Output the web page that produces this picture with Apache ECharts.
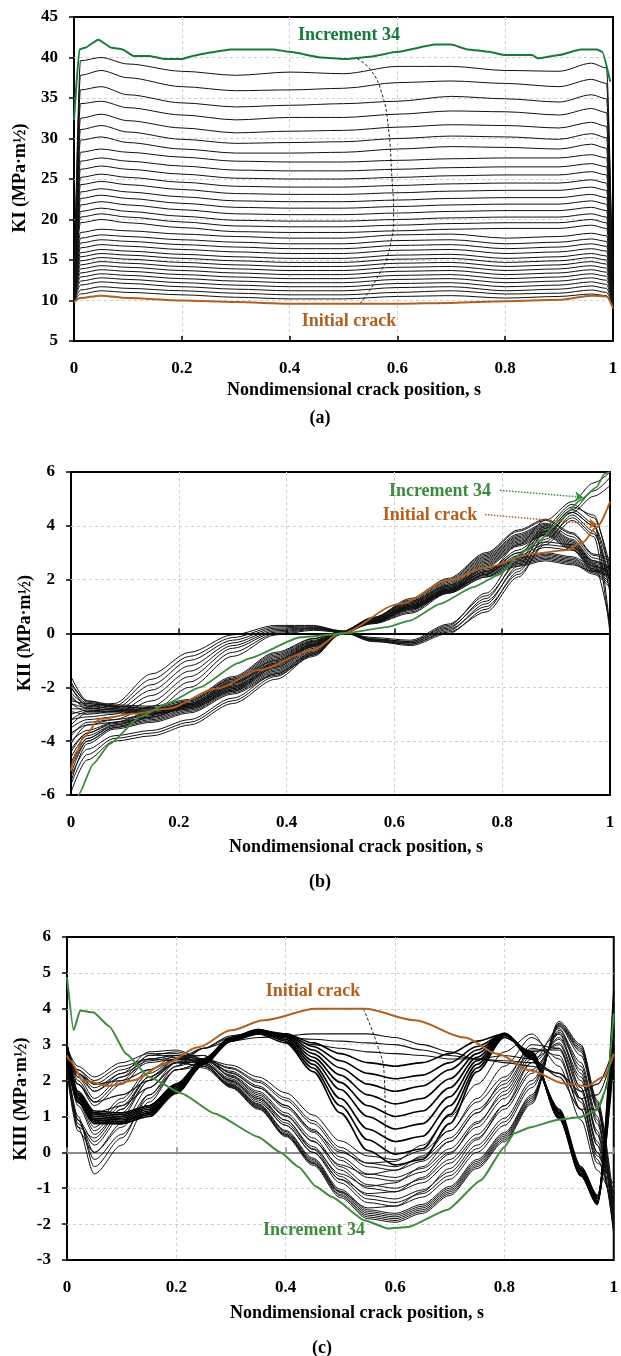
<!DOCTYPE html>
<html><head><meta charset="utf-8">
<script src="https://cdn.jsdelivr.net/npm/echarts@6/dist/echarts.min.js"></script>
<style>html,body{margin:0;padding:0;background:#fff}#c{width:621px;height:1356px}</style>
</head><body><div id="c"></div>
<script>
// ---------------- Panel (a): KI ----------------
const KI_S = [0, 0.012, 0.05, 0.1, 0.2, 0.3, 0.4, 0.5, 0.6, 0.7, 0.8, 0.9, 0.96, 0.988, 1];
const KI_LINES = [
 [10.5,39.6,40.0,39.2,38.3,37.8,38.2,38.0,38.9,38.9,38.4,38.3,39.3,38.7,9.6],
 [10.5,37.8,38.4,37.5,36.4,35.9,36.0,36.2,36.9,37.1,36.8,36.4,37.3,36.8,9.6],
 [10.4,36.0,36.4,35.4,34.4,33.9,34.1,34.3,34.6,35.2,34.9,34.5,35.4,34.9,9.6],
 [10.4,34.3,34.6,33.8,32.9,32.3,32.6,32.6,33.0,33.4,33.3,32.9,33.7,33.2,9.6],
 [10.4,32.5,33.0,32.2,31.3,30.7,30.9,31.0,31.4,31.7,31.6,31.3,32.0,31.5,9.6],
 [10.3,31.1,31.6,30.8,29.9,29.4,29.5,29.6,30.0,30.3,30.2,29.9,30.6,30.1,9.6],
 [10.3,29.8,30.2,29.5,28.7,28.2,28.2,28.3,28.7,29.0,28.9,28.7,29.3,28.8,9.6],
 [10.3,28.3,28.7,28.3,27.7,27.2,27.1,27.1,27.3,27.5,27.6,27.6,28.0,27.6,9.5],
 [10.3,27.2,27.6,27.2,26.6,26.1,26.0,26.0,26.2,26.4,26.5,26.5,26.9,26.5,9.5],
 [10.3,26.2,26.6,26.2,25.6,25.1,25.0,25.0,25.2,25.4,25.5,25.5,25.9,25.5,9.5],
 [10.2,25.2,25.6,25.2,24.6,24.1,24.0,24.0,24.2,24.4,24.5,24.5,24.9,24.5,9.5],
 [10.2,24.3,24.7,24.3,23.7,23.2,23.1,23.1,23.3,23.5,23.6,23.6,24.0,23.6,9.5],
 [10.2,23.4,23.8,23.4,22.8,22.3,22.2,22.2,22.4,22.6,22.7,22.7,23.1,22.7,9.5],
 [10.2,22.6,23.0,22.6,22.0,21.5,21.4,21.4,21.6,21.8,21.9,21.9,22.3,21.9,9.5],
 [10.2,21.8,22.2,21.8,21.2,20.7,20.6,20.6,20.8,21.0,21.1,21.1,21.5,21.1,9.5],
 [10.1,21.0,21.4,21.0,20.4,19.9,19.8,19.8,20.0,20.2,20.3,20.3,20.7,20.3,9.5],
 [10.1,20.3,20.7,20.3,19.7,19.2,19.1,19.1,19.3,19.5,19.6,19.6,20.0,19.6,9.5],
 [10.1,19.6,20.0,19.6,19.0,18.5,18.4,18.4,18.6,18.8,18.9,18.9,19.3,18.9,9.5],
 [10.0,18.4,18.8,18.6,18.2,17.9,17.7,17.7,18.1,18.2,17.7,17.9,18.3,18.0,9.4],
 [10.0,17.7,18.1,17.9,17.5,17.2,17.0,17.0,17.4,17.5,17.0,17.2,17.6,17.3,9.4],
 [10.0,17.1,17.5,17.3,16.9,16.6,16.4,16.4,16.8,16.9,16.4,16.6,17.0,16.7,9.4],
 [10.0,16.5,16.9,16.7,16.3,16.0,15.8,15.8,16.2,16.3,15.8,16.0,16.4,16.1,9.4],
 [10.0,15.9,16.3,16.1,15.7,15.4,15.2,15.2,15.6,15.7,15.2,15.4,15.8,15.5,9.4],
 [10.0,15.4,15.8,15.6,15.2,14.9,14.7,14.7,15.1,15.2,14.7,14.9,15.3,15.0,9.4],
 [9.9,14.9,15.3,15.1,14.7,14.4,14.2,14.2,14.6,14.7,14.2,14.4,14.8,14.5,9.4],
 [9.9,14.4,14.8,14.6,14.2,13.9,13.7,13.7,14.1,14.2,13.7,13.9,14.3,14.0,9.4],
 [9.9,13.9,14.3,14.1,13.7,13.4,13.2,13.2,13.6,13.7,13.2,13.4,13.8,13.5,9.4],
 [9.9,13.4,13.8,13.6,13.2,12.9,12.7,12.7,13.1,13.2,12.7,12.9,13.3,13.0,9.4],
 [9.9,12.9,13.3,13.1,12.7,12.4,12.2,12.2,12.6,12.7,12.2,12.4,12.8,12.5,9.3],
 [9.8,12.4,12.8,12.6,12.2,11.9,11.7,11.7,12.1,12.2,11.7,11.9,12.3,12.0,9.3],
 [9.8,11.9,12.3,12.1,11.7,11.4,11.2,11.2,11.6,11.7,11.2,11.4,11.8,11.5,9.3],
 [9.8,11.3,11.7,11.5,11.2,10.9,10.7,10.7,11.0,11.2,10.8,10.9,11.3,11.0,9.3],
 [9.8,10.8,11.2,11.0,10.7,10.4,10.2,10.2,10.5,10.6,10.3,10.5,10.8,10.6,9.3]
];
const KI_INIT_S = [0, 0.012, 0.05, 0.1, 0.2, 0.3, 0.4, 0.5, 0.6, 0.7, 0.8, 0.9, 0.96, 0.988, 1];
const KI_INIT = [9.8, 10.3, 10.6, 10.3, 10.0, 9.8, 9.6, 9.6, 9.6, 9.7, 9.9, 10.1, 10.6, 10.5, 9.0];
const KI_INC34_S = [0, 0.01, 0.02, 0.045, 0.07, 0.09, 0.11, 0.14, 0.17, 0.2, 0.22, 0.25, 0.29, 0.37, 0.4, 0.46, 0.5, 0.55, 0.6, 0.67, 0.7, 0.73, 0.77, 0.8, 0.85, 0.86, 0.9, 0.94, 0.97, 0.98, 0.995];
const KI_INC34 = [32.3, 41.0, 41.2, 42.2, 41.2, 41.0, 40.2, 40.2, 39.8, 39.8, 40.2, 40.6, 41.0, 41.0, 40.7, 40.0, 39.8, 40.1, 40.7, 41.6, 41.6, 41.0, 40.7, 40.3, 40.3, 39.9, 40.3, 41.0, 41.0, 40.7, 37.0];
const KI_TREND_S = [0.531, 0.56, 0.586, 0.593, 0.59, 0.583, 0.571, 0.55, 0.524];
const KI_TREND = [9.65, 12.5, 16.6, 21.0, 25.0, 31.5, 35.6, 38.5, 39.9];

// ---------------- Panel (b): KII ----------------
const KII_S = [0, 0.03, 0.08, 0.15, 0.22, 0.3, 0.38, 0.45, 0.5, 0.56, 0.63, 0.7, 0.77, 0.83, 0.88, 0.93, 0.97, 1];
const KII_LINES = [
 [-1.6,-2.5,-2.7,-2.8,-2.55,-1.7,-0.8,-0.25,0.05,0.55,1.2,1.95,2.9,3.7,4.1,3.6,2.8,2.6],
 [-1.8,-2.55,-2.7,-2.8,-2.6,-1.75,-0.85,-0.28,0.05,0.52,1.15,1.9,2.85,3.65,4.05,3.5,2.7,2.5],
 [-2.0,-2.6,-2.75,-2.85,-2.6,-1.8,-0.9,-0.3,0.05,0.5,1.1,1.85,2.8,3.6,4.0,3.45,2.65,2.45],
 [-2.2,-2.65,-2.8,-2.85,-2.65,-1.85,-0.95,-0.32,0.05,0.48,1.05,1.8,2.75,3.55,3.95,3.4,2.6,2.4],
 [-2.4,-2.7,-2.8,-2.9,-2.65,-1.9,-1.0,-0.35,0.04,0.46,1.0,1.75,2.7,3.5,3.9,3.35,2.55,2.35],
 [-2.6,-2.75,-2.85,-2.9,-2.7,-1.95,-1.05,-0.38,0.04,0.44,0.95,1.7,2.65,3.45,3.85,3.3,2.5,2.3],
 [-2.8,-2.8,-2.85,-2.95,-2.7,-2.0,-1.1,-0.4,0.03,0.42,0.9,1.65,2.6,3.4,3.8,3.25,2.45,2.25],
 [-3.0,-2.85,-2.9,-2.95,-2.75,-2.05,-1.15,-0.42,0.03,0.4,0.85,1.6,2.55,3.35,3.75,3.2,2.4,2.2],
 [-3.2,-2.9,-2.9,-3.0,-2.75,-2.1,-1.2,-0.45,0.02,0.38,0.8,1.55,2.5,3.3,3.7,3.15,2.35,2.15],
 [-3.4,-2.95,-2.95,-3.0,-2.8,-2.15,-1.25,-0.48,0.02,0.36,0.75,1.5,2.45,3.25,3.65,3.1,2.3,2.1],
 [-2.5,-2.6,-2.7,-2.75,-2.5,-1.65,-0.75,-0.2,0.06,0.56,1.25,2.0,2.95,3.8,4.2,3.7,2.9,2.7],
 [-1.9,-2.5,-2.65,-2.7,-2.45,-1.6,-0.7,-0.18,0.06,0.58,1.3,2.05,3.0,3.85,4.25,3.75,2.95,2.8],
 [-2.0,-2.7,-2.6,-1.5,-0.7,-0.05,0.3,0.3,0.1,-0.2,-0.3,0.3,1.5,2.9,4.0,4.8,4.3,2.5],
 [-2.3,-2.8,-2.7,-1.7,-0.85,-0.15,0.25,0.28,0.1,-0.22,-0.35,0.2,1.3,2.7,3.9,4.7,4.4,2.2],
 [-2.6,-2.9,-2.8,-1.9,-1.0,-0.25,0.2,0.25,0.08,-0.25,-0.4,0.1,1.1,2.5,3.8,4.6,4.1,0.2],
 [-2.9,-3.0,-2.9,-2.1,-1.2,-0.35,0.15,0.22,0.08,-0.28,-0.45,0.0,0.9,2.3,3.6,4.5,4.0,1.8],
 [-3.2,-3.1,-3.0,-2.3,-1.4,-0.45,0.1,0.2,0.07,-0.3,-0.4,0.05,0.8,2.1,3.4,4.4,3.8,1.5],
 [-3.5,-3.2,-3.1,-2.5,-1.6,-0.55,0.05,0.18,0.07,-0.25,-0.35,0.15,1.0,2.2,3.3,4.2,3.6,0.0],
 [-3.8,-3.3,-3.2,-2.7,-1.8,-0.7,0.0,0.15,0.06,-0.2,-0.3,0.25,1.2,2.4,3.5,4.3,3.7,1.9],
 [-4.1,-3.4,-3.3,-2.9,-2.0,-0.85,-0.05,0.12,0.05,-0.15,-0.25,0.35,1.4,2.6,3.7,4.5,4.0,2.3],
 [-4.0,-3.6,-3.3,-3.1,-2.7,-2.0,-1.3,-0.6,0.0,0.55,1.15,1.75,2.35,2.75,2.95,2.8,2.4,2.1],
 [-4.3,-3.7,-3.35,-3.1,-2.75,-2.05,-1.35,-0.65,0.0,0.5,1.1,1.7,2.3,2.7,2.9,2.75,2.35,2.0],
 [-4.6,-3.8,-3.4,-3.15,-2.8,-2.1,-1.4,-0.7,-0.02,0.48,1.05,1.65,2.25,2.65,2.85,2.7,2.3,1.9],
 [-4.9,-3.9,-3.45,-3.2,-2.85,-2.15,-1.45,-0.75,-0.02,0.45,1.0,1.6,2.2,2.6,2.8,2.65,2.25,1.8],
 [-5.2,-4.0,-3.5,-3.25,-2.9,-2.2,-1.5,-0.8,-0.03,0.42,0.95,1.55,2.15,2.55,2.75,2.6,2.2,1.7],
 [-5.5,-4.1,-3.55,-3.3,-2.95,-2.25,-1.55,-0.85,-0.04,0.4,0.9,1.5,2.1,2.5,2.7,2.55,2.3,2.5],
 [-3.7,-3.4,-3.2,-3.0,-2.65,-1.95,-1.25,-0.55,0.01,0.6,1.2,1.8,2.4,2.8,3.0,2.85,2.5,2.3],
 [-4.4,-3.7,-3.3,-3.0,-2.5,-1.7,-1.0,-0.4,0.02,0.5,1.05,1.65,2.3,3.1,3.8,4.6,5.3,5.8],
 [-4.8,-3.9,-3.4,-3.05,-2.6,-1.8,-1.1,-0.45,0.0,0.45,1.0,1.6,2.2,3.0,3.7,4.5,5.1,5.5],
 [-5.0,-4.0,-3.5,-3.1,-2.65,-1.85,-1.15,-0.5,0.0,0.4,0.95,1.55,2.2,3.3,4.2,4.9,5.6,6.0],
 [-5.3,-4.3,-3.8,-3.6,-3.2,-2.4,-1.5,-0.7,0.0,0.5,1.0,1.6,2.3,3.0,3.4,3.3,2.7,2.4],
 [-5.6,-4.5,-3.9,-3.7,-3.3,-2.5,-1.6,-0.75,0.0,0.45,0.95,1.55,2.2,2.9,3.3,3.2,2.6,0.3],
 [-5.9,-4.7,-4.0,-3.8,-3.4,-2.6,-1.7,-0.8,-0.02,0.4,0.9,1.5,2.1,2.8,3.2,3.1,2.5,2.2]
];
const KII_INIT_S = [0, 0.01, 0.023, 0.054, 0.115, 0.178, 0.27, 0.35, 0.447, 0.5, 0.61, 0.70, 0.771, 0.857, 0.92, 0.95, 0.975, 1];
const KII_INIT = [-5.1, -4.4, -3.85, -3.17, -2.98, -2.8, -2.05, -1.35, -0.63, 0.0, 1.1, 1.97, 2.46, 2.97, 3.1, 3.4, 3.95, 4.9];
const KII_INC34_S = [0, 0.014, 0.041, 0.072, 0.128, 0.178, 0.239, 0.31, 0.33, 0.425, 0.511, 0.586, 0.629, 0.685, 0.746, 0.796, 0.833, 0.87, 0.907, 0.944, 0.975, 0.99, 1.0];
const KII_INC34 = [-7.2, -6.0, -4.85, -4.1, -3.1, -2.6, -2.0, -1.1, -0.93, -0.14, 0.01, 0.24, 0.48, 1.1, 1.72, 2.2, 2.96, 3.46, 4.2, 4.94, 5.44, 5.94, 6.0];
const KII_ARROW_INC34 = [[0.796, 5.32], [0.95, 5.06]];
const KII_ARROW_INIT = [[0.768, 4.42], [0.976, 4.05]];

// ---------------- Panel (c): KIII ----------------
const KIII_S = [0, 0.02, 0.05, 0.1, 0.15, 0.2, 0.25, 0.3, 0.35, 0.4, 0.45, 0.5, 0.55, 0.6, 0.65, 0.7, 0.75, 0.8, 0.85, 0.9, 0.94, 0.97, 1];
const KIII_UPPER = [
 [2.7,2.2,1.9,2.0,2.3,2.6,2.9,3.1,3.2,3.25,3.3,3.3,3.3,3.2,3.0,2.8,2.6,2.5,2.4,2.2,1.7,1.9,2.9],
 [2.6,1.9,1.4,1.6,2.0,2.5,2.9,3.2,3.3,3.2,3.15,3.1,3.05,3.0,2.85,2.7,2.6,2.55,2.5,2.2,1.5,1.6,2.8],
 [2.5,1.5,1.1,1.3,1.8,2.4,2.9,3.25,3.35,3.2,3.0,2.9,2.8,2.75,2.7,2.6,2.6,2.7,2.6,2.1,1.2,1.2,2.8]
];
const KIII_THICK = [
 [2.9,1.7,1.15,1.1,1.3,1.9,2.6,3.15,3.35,3.3,3.05,2.75,2.5,2.4,2.5,2.75,3.1,3.3,2.6,1.2,-0.4,-1.2,2.6],
 [3.0,1.65,1.1,1.05,1.3,1.9,2.6,3.2,3.4,3.3,2.95,2.55,2.2,2.05,2.15,2.5,2.95,3.3,2.65,1.15,-0.45,-1.25,3.0],
 [2.8,1.6,1.05,1.0,1.25,1.85,2.6,3.2,3.4,3.28,2.85,2.35,1.9,1.7,1.85,2.3,2.85,3.3,2.6,1.1,-0.5,-1.3,3.3],
 [2.9,1.55,1.0,0.95,1.2,1.85,2.6,3.2,3.42,3.25,2.75,2.15,1.6,1.35,1.5,2.05,2.75,3.32,2.65,1.1,-0.5,-1.35,3.6],
 [3.0,1.5,0.95,0.9,1.15,1.8,2.55,3.2,3.42,3.22,2.65,1.95,1.3,1.0,1.15,1.8,2.65,3.32,2.7,1.05,-0.55,-1.4,3.9],
 [2.7,1.5,0.9,0.85,1.1,1.75,2.55,3.15,3.4,3.2,2.55,1.75,1.0,0.65,0.8,1.55,2.55,3.3,2.7,1.0,-0.6,-1.4,4.2],
 [2.8,1.45,0.9,0.85,1.1,1.75,2.5,3.15,3.38,3.15,2.45,1.5,0.65,0.3,0.45,1.3,2.45,3.28,2.75,1.0,-0.6,-1.45,4.5],
 [2.6,1.4,0.85,0.8,1.05,1.7,2.5,3.1,3.35,3.1,2.35,1.3,0.35,-0.05,0.1,1.05,2.35,3.25,2.75,0.95,-0.65,-1.45,3.4],
 [2.7,1.4,0.8,0.8,1.0,1.65,2.45,3.1,3.3,3.05,2.25,1.1,0.05,-0.35,-0.2,0.8,2.25,3.2,2.8,0.95,-0.65,-1.4,2.9]
];
const KIII_THIN = [
 [2.8,2.3,1.9,2.3,2.6,2.7,2.6,2.43,2.1,1.66,1.04,0.32,-0.1,-0.2,0.05,0.6,1.4,2.1,2.9,2.7,1.2,-0.3,-0.9],
 [2.7,1.6,0.8,1.5,2.3,2.7,2.7,2.2,1.8,1.3,0.6,0.0,-0.3,-0.25,0.2,1.0,1.9,2.8,3.3,2.4,0.9,-0.5,-1.5],
 [2.5,1.0,-0.4,0.4,1.6,2.4,2.6,2.36,2.0,1.52,0.88,0.14,-0.3,-0.4,-0.15,0.4,1.2,1.9,2.85,2.85,1.4,-0.1,-1.1],
 [2.9,2.0,1.4,2.0,2.7,2.8,2.6,2.33,1.95,1.45,0.8,0.05,-0.4,-0.5,-0.25,0.3,1.1,1.8,2.8,2.9,1.5,0.0,-1.2],
 [2.4,0.8,0.2,1.0,2.0,2.6,2.7,2.1,1.6,1.0,0.3,-0.35,-0.62,-0.5,-0.1,0.6,1.5,2.4,3.2,2.6,1.2,-0.2,-1.8],
 [2.9,2.4,2.1,2.5,2.75,2.75,2.55,2.26,1.85,1.31,0.64,-0.13,-0.6,-0.7,-0.45,0.1,0.85,1.6,2.6,3.0,1.7,0.2,-1.4],
 [2.6,1.3,0.5,1.2,2.1,2.6,2.6,2.22,1.8,1.24,0.56,-0.22,-0.7,-0.8,-0.55,0.0,0.7,1.5,2.5,3.05,1.8,0.3,-1.5],
 [2.3,0.7,-0.6,0.2,1.4,2.3,2.5,2.0,1.5,0.9,0.1,-0.6,-0.95,-0.85,-0.4,0.3,1.1,2.0,3.0,2.9,1.5,0.0,-2.0],
 [3.0,2.2,1.7,2.2,2.8,2.85,2.6,2.15,1.7,1.1,0.4,-0.4,-0.9,-1.0,-0.75,-0.2,0.5,1.3,2.3,3.15,2.0,0.5,-1.7],
 [2.2,0.6,0.0,0.8,1.8,2.5,2.6,2.12,1.65,1.03,0.32,-0.49,-1.0,-1.1,-0.85,-0.3,0.4,1.2,2.2,3.2,2.1,0.6,-1.8],
 [2.8,2.2,1.8,2.2,2.55,2.65,2.5,1.95,1.4,0.75,0.0,-0.75,-1.15,-1.1,-0.7,-0.05,0.8,1.7,2.7,3.3,1.8,0.2,-2.2],
 [2.7,1.5,0.7,1.4,2.2,2.6,2.55,2.05,1.55,0.89,0.16,-0.67,-1.2,-1.3,-1.05,-0.55,0.2,0.95,2.0,3.3,2.3,0.8,-2.0],
 [2.5,0.9,-0.2,0.5,1.5,2.3,2.5,2.01,1.5,0.82,0.08,-0.76,-1.3,-1.4,-1.15,-0.65,0.1,0.85,1.9,3.35,2.4,0.9,-2.1],
 [2.9,1.9,1.3,1.9,2.6,2.7,2.5,1.98,1.45,0.75,0.0,-0.85,-1.4,-1.5,-1.25,-0.75,0.0,0.75,1.8,3.4,2.5,1.0,-2.2],
 [2.4,0.9,0.3,1.1,2.0,2.5,2.5,1.8,1.2,0.5,-0.3,-1.1,-1.55,-1.5,-1.1,-0.45,0.35,1.3,2.5,3.45,2.2,0.5,-2.3],
 [2.7,2.1,1.7,2.1,2.5,2.6,2.45,1.91,1.35,0.61,-0.16,-1.03,-1.6,-1.7,-1.45,-0.95,-0.2,0.55,1.6,3.5,2.7,1.2,-2.1],
 [2.6,1.4,0.6,1.3,2.1,2.5,2.4,1.89,1.33,0.58,-0.2,-1.08,-1.65,-1.75,-1.5,-1.0,-0.25,0.5,1.55,3.52,2.8,1.25,-2.0],
 [2.4,0.9,0.0,0.7,1.6,2.3,2.4,1.87,1.3,0.54,-0.24,-1.12,-1.7,-1.8,-1.55,-1.05,-0.3,0.45,1.5,3.55,2.85,1.3,-1.9],
 [3.0,2.1,1.5,2.1,2.7,2.7,2.45,1.85,1.28,0.5,-0.28,-1.17,-1.75,-1.85,-1.6,-1.1,-0.35,0.4,1.45,3.58,2.9,1.35,-1.8],
 [2.3,0.7,0.4,1.2,2.1,2.5,2.4,1.84,1.25,0.47,-0.32,-1.21,-1.8,-1.9,-1.65,-1.15,-0.4,0.35,1.4,3.6,2.95,1.4,-1.6],
 [2.8,2.3,2.0,2.4,2.6,2.55,2.35,1.82,1.23,0.44,-0.36,-1.26,-1.85,-1.95,-1.7,-1.2,-0.45,0.3,1.35,3.65,3.0,1.45,-1.4]
];
const KIII_INIT_S = [0, 0.005, 0.03, 0.078, 0.12, 0.18, 0.24, 0.30, 0.36, 0.455, 0.484, 0.545, 0.636, 0.727, 0.787, 0.848, 0.909, 0.951, 0.981, 1];
const KIII_INIT = [2.7, 2.56, 2.0, 1.85, 2.0, 2.47, 2.93, 3.4, 3.68, 4.0, 4.0, 4.0, 3.68, 3.2, 2.75, 2.28, 1.92, 1.85, 2.1, 2.75];
const KIII_INC34_S = [0, 0.012, 0.024, 0.048, 0.078, 0.108, 0.15, 0.21, 0.27, 0.35, 0.39, 0.424, 0.455, 0.484, 0.545, 0.587, 0.624, 0.696, 0.757, 0.8, 0.818, 0.848, 0.896, 0.938, 0.969, 0.987, 1];
const KIII_INC34 = [4.88, 3.4, 3.95, 3.9, 3.5, 2.75, 2.1, 1.64, 1.08, 0.43, 0.0, -0.41, -0.95, -1.24, -1.9, -2.12, -2.08, -1.6, -0.78, 0.15, 0.53, 0.7, 0.9, 0.98, 1.17, 1.8, 3.87];
const KIII_TREND_S = [0.542, 0.569, 0.58, 0.582, 0.582];
const KIII_TREND = [4.0, 2.93, 2.2, 0.9, -0.25];

// ---------------- styling ----------------
const FONT = '"Liberation Serif", "Times New Roman", serif';
const BROWN = '#B2601F';
const GREEN_A = '#167A3A';
const GREEN = '#3D8B3D';

function pairs(xs, ys) { return xs.map((x, i) => [x, ys[i]]); }
function line(gi, xs, ys, color, width, z, opts) {
  return Object.assign({
    type: 'line', xAxisIndex: gi, yAxisIndex: gi, data: pairs(xs, ys),
    showSymbol: false, symbol: 'none', smooth: 0.3, smoothMonotone: 'x',
    lineStyle: { color: color, width: width }, z: z, silent: true, clip: true
  }, opts || {});
}
const series = [];
KI_LINES.forEach(v => series.push(line(0, KI_S, v, '#111', 1, 2)));
series.push(line(0, KI_TREND_S, KI_TREND, '#222', 1, 3, { smooth: true, smoothMonotone: null, lineStyle: { color: '#222', width: 1, type: [3, 2] } }));
series.push(line(0, KI_INIT_S, KI_INIT, BROWN, 2, 4));
series.push(line(0, KI_INC34_S, KI_INC34, GREEN_A, 2, 4, { smooth: 0.15 }));

KII_LINES.forEach(v => series.push(line(1, KII_S, v, '#111', 1, 2)));
series.push(line(1, KII_INIT_S, KII_INIT, BROWN, 1.8, 4));
series.push(line(1, KII_INC34_S, KII_INC34, GREEN, 1.8, 4, {
  smooth: 0.15,
  markLine: {
    silent: true, symbol: ['none', 'arrow'], symbolSize: 8, label: { show: false },
    data: [
      [{ coord: KII_ARROW_INC34[0], lineStyle: { color: GREEN, type: 'dotted', width: 1.5 } }, { coord: KII_ARROW_INC34[1] }],
      [{ coord: KII_ARROW_INIT[0], lineStyle: { color: BROWN, type: 'dotted', width: 1.5 } }, { coord: KII_ARROW_INIT[1] }]
    ]
  }
}));

KIII_UPPER.forEach(v => series.push(line(2, KIII_S, v, '#111', 1.1, 2)));
KIII_THIN.forEach(v => series.push(line(2, KIII_S, v, '#111', 1, 2)));
KIII_THICK.forEach(v => series.push(line(2, KIII_S, v, '#000', 1.6, 2)));
series.push(line(2, KIII_TREND_S, KIII_TREND, '#222', 1, 3, { smooth: true, smoothMonotone: null, lineStyle: { color: '#222', width: 1, type: [3, 2] } }));
series.push(line(2, KIII_INIT_S, KIII_INIT, BROWN, 2, 4));
series.push(line(2, KIII_INC34_S, KIII_INC34, GREEN, 2, 4, { smooth: 0.15 }));

const SPLIT = { show: true, showMinLine: false, showMaxLine: false, lineStyle: { color: '#cfcfcf', type: [3, 3], width: 1 } };
function axX(gi, ticks) {
  return {
    gridIndex: gi, type: 'value', min: 0, max: 1, interval: 0.2, position: 'bottom',
    axisLine: { show: false, onZero: false },
    axisTick: { show: ticks, inside: true, length: 5, lineStyle: { color: '#000', width: 1.5 } },
    axisLabel: { margin: 19, color: '#000', fontFamily: FONT, fontWeight: 'bold', fontSize: 17 },
    splitLine: SPLIT
  };
}
function axZero(gi, color) {
  return {
    gridIndex: gi, type: 'value', min: 0, max: 1, interval: 0.2, position: 'bottom',
    axisLine: { show: true, onZero: true, lineStyle: { color: color, width: 2 } },
    axisTick: { show: true, inside: true, length: 5, lineStyle: { color: color, width: 1.5 } },
    axisLabel: { show: false }, splitLine: { show: false }
  };
}
function axY(gi, min, max, interval) {
  return {
    gridIndex: gi, type: 'value', min: min, max: max, interval: interval,
    axisLine: { show: false },
    axisTick: { show: true, inside: false, length: 5, lineStyle: { color: '#000', width: 1.5 } },
    axisLabel: { margin: 16, color: '#000', fontFamily: FONT, fontWeight: 'bold', fontSize: 17 },
    splitLine: SPLIT
  };
}
function txt(t, x, y, color, size, rot) {
  return {
    type: 'text', x: x, y: y, rotation: rot || 0, z: 100,
    style: { text: t, fill: color, font: 'bold ' + size + 'px ' + FONT,
      align: 'center', verticalAlign: 'middle', textAlign: 'center', textVerticalAlign: 'middle' }
  };
}
const XTITLE = 'Nondimensional crack position, s';
const option = {
  animation: false,
  backgroundColor: '#fff',
  grid: [
    { left: 74, top: 17, width: 539, height: 324, show: true, borderColor: '#000', borderWidth: 2, backgroundColor: 'transparent' },
    { left: 71, top: 472, width: 539, height: 323, show: true, borderColor: '#000', borderWidth: 2, backgroundColor: 'transparent' },
    { left: 67, top: 937, width: 550, height: 323, show: true, borderColor: '#000', borderWidth: 2, backgroundColor: 'transparent' }
  ],
  xAxis: [axX(0, true), axX(1, false), axX(2, false), axZero(1, '#000'), axZero(2, '#8a8a8a')],
  yAxis: [axY(0, 5, 45, 5), axY(1, -6, 6, 2), axY(2, -3, 6, 1)],
  series: series,
  graphic: [
    txt('Increment 34', 349, 35, GREEN_A, 18),
    txt('Initial crack', 349, 321, BROWN, 18),
    txt(XTITLE, 354, 390, '#000', 18),
    txt('(a)', 320, 418, '#000', 18),
    txt('KI (MPa·m½)', 20, 178, '#000', 18, Math.PI / 2),
    txt('Increment 34', 440, 491, GREEN, 18),
    txt('Initial crack', 430, 515, BROWN, 18),
    txt(XTITLE, 356, 847, '#000', 18),
    txt('(b)', 320, 882, '#000', 18),
    txt('KII (MPa·m½)', 25, 633, '#000', 18, Math.PI / 2),
    txt('Initial crack', 313, 991, BROWN, 18),
    txt('Increment 34', 314, 1230, GREEN, 18),
    txt(XTITLE, 357, 1313, '#000', 18),
    txt('(c)', 322, 1348, '#000', 18),
    txt('KIII (MPa·m½)', 21, 1099, '#000', 18, Math.PI / 2)
  ]
};
const chart = echarts.init(document.getElementById('c'), null, { renderer: 'canvas' });
chart.setOption(option);
</script></body></html>
